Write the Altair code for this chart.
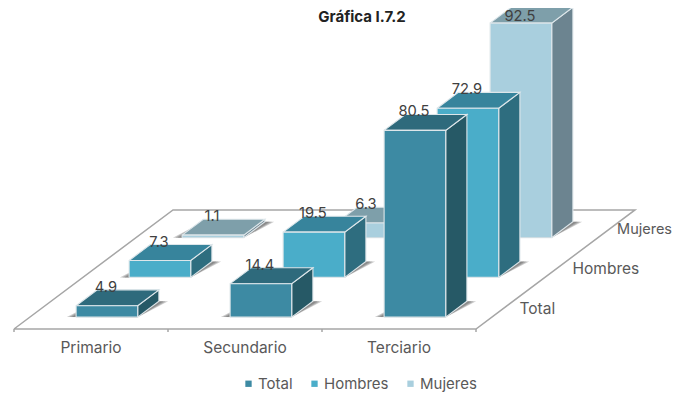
import altair as alt
import pandas as pd

categories = ["Primario", "Secundario", "Terciario"]
series = ["Total", "Hombres", "Mujeres"]
total = [4.9, 14.4, 80.5]
hombres = [7.3, 19.5, 72.9]
mujeres = [1.1, 6.3, 92.5]
front_colors = ["#3D8AA3", "#4AADC9", "#A9CFDE"]
top_colors = ["#2E6A7C", "#37849C", "#7E9FAA"]
side_colors = ["#265966", "#2E6D7F", "#6C8490"]
title_text = "Gráfica I.7.2"
FONT = "Inter"
TEXT = "#595959"
LABEL = "#404040"

W, H = 665, 384
ORIGIN_X, ORIGIN_Y = 6, 321   # floor front-left corner in plot units
CAT_W, DEPTH_X, DEPTH_Y, UNIT = 154, 53, 39.7, 2.32
HALF_W, D0, D1 = 0.2, 0.3, 0.7


def proj(c, d, v=0.0):
    return ORIGIN_X + CAT_W * c + DEPTH_X * d, ORIGIN_Y - DEPTH_Y * d - UNIT * v


values = [total, hombres, mujeres]
polys, shadows, labels = [], [], []
pid = 0


def add(rows, pts, fill):
    global pid
    pid += 1
    for s, (c, d, v) in enumerate(pts + pts[:1]):
        x, y = proj(c, d, v)
        rows.append({"pid": pid, "seq": s, "x": x, "y": y, "fill": fill})


for j in (2, 1, 0):
    for i in range(3):
        v = values[j][i]
        c0, c1 = i + 0.5 - HALF_W, i + 0.5 + HALF_W
        d0, d1 = j + D0, j + D1
        for dc in (0.06, 0.045, 0.03):
            add(shadows, [(c0 - dc, d0, 0), (c1, d0 - 0.01, 0), (c1 + dc, d1, 0), (c0, d1, 0)], "#444444")
        add(polys, [(c1, d0, 0), (c1, d1, 0), (c1, d1, v), (c1, d0, v)], side_colors[j])
        add(polys, [(c0, d0, v), (c1, d0, v), (c1, d1, v), (c0, d1, v)], top_colors[j])
        add(polys, [(c0, d0, 0), (c1, d0, 0), (c1, d0, v), (c0, d0, v)], front_colors[j])
        x, _ = proj(i + 0.5, d0, v)
        _, y = proj(i + 0.5, d1, v)
        # the top edge of the page cannot be drawn on: keep the tallest label legible
        labels.append({"t": f"{v}", "x": x - 1, "y": max(y - 2, 9)})

floor_rows = []
corners = [(0, 0), (3, 0), (3, 3), (0, 3), (0, 0)]
for s, (c, d) in enumerate(corners):
    x, y = proj(c, d)
    floor_rows.append({"pid": 0, "seq": s, "x": x, "y": y})
for i in range(4):
    x, y = proj(i, 0)
    floor_rows.append({"pid": i + 1, "seq": 0, "x": x, "y": y})
    floor_rows.append({"pid": i + 1, "seq": 1, "x": x, "y": y + 3})

cat_rows = [{"t": t, "x": proj(i + 0.5, 0)[0], "y": proj(i + 0.5, 0)[1] + 19} for i, t in enumerate(categories)]
ser_rows = [{"t": t, "x": proj(3, j + 0.5)[0] + 17, "y": proj(3, j + 0.5)[1]} for j, t in enumerate(series[:2])]
# "Mujeres" runs past the right edge in the reference; here it ends at the edge
mujeres_row = [{"t": series[2], "x": W - 1, "y": proj(3, 2.5)[1]}]
legend_rows = [{"s": s, "x": proj(2.5, 0.5)[0], "y": proj(2.5, 0.5)[1]} for s in series]

X = alt.X("x:Q", axis=None, scale=alt.Scale(domain=[0, W], nice=False, zero=False))
Y = alt.Y("y:Q", axis=None, scale=alt.Scale(domain=[H, 0], nice=False, zero=False))


def text_layer(rows, size, color, align="center"):
    return alt.Chart(pd.DataFrame(rows)).mark_text(
        font=FONT, fontSize=size, color=color, align=align, baseline="middle"
    ).encode(x=X, y=Y, text="t:N")


legend_layer = alt.Chart(pd.DataFrame(legend_rows)).mark_square(size=1, opacity=1).encode(
    x=X, y=Y,
    color=alt.Color("s:N", sort=series, title=None,
                    scale=alt.Scale(domain=series, range=front_colors),
                    legend=alt.Legend(orient="none", legendX=233, legendY=368, direction="horizontal",
                                      symbolType="square", symbolSize=40, symbolStrokeWidth=0,
                                      labelFont=FONT, labelFontSize=15, labelColor=TEXT,
                                      labelOffset=2, columnPadding=14, padding=0)),
)

floor = alt.Chart(pd.DataFrame(floor_rows)).mark_line(stroke="#A6A6A6", strokeWidth=1.5).encode(
    x=X, y=Y, detail="pid:N", order="seq:Q")

shadow = alt.Chart(pd.DataFrame(shadows)).mark_line(strokeOpacity=0, fillOpacity=0.27).encode(
    x=X, y=Y, detail="pid:N", order="seq:Q", fill=alt.Fill("fill:N", scale=None))

bars = alt.Chart(pd.DataFrame(polys)).mark_line(stroke="#DDE6EA", strokeWidth=1.1).encode(
    x=X, y=Y, detail="pid:N", order="seq:Q", fill=alt.Fill("fill:N", scale=None))

title_layer = alt.Chart(pd.DataFrame([{"t": title_text, "x": 354, "y": 9}])).mark_text(
    font=FONT, fontSize=15, fontWeight="bold", color="#222222", align="center", baseline="middle"
).encode(x=X, y=Y, text="t:N")

chart = alt.layer(
    legend_layer, floor, shadow, bars,
    text_layer(labels, 14.7, LABEL),
    text_layer(cat_rows, 15.5, TEXT),
    text_layer(ser_rows, 15.5, TEXT, "left"),
    text_layer(mujeres_row, 14.5, TEXT, "right"),
    title_layer,
).properties(width=W, height=H, padding=0, autosize=alt.AutoSizeParams(type="none")).configure_view(stroke=None)

chart.save("out.html", embed_options={"renderer": "svg", "actions": False})
